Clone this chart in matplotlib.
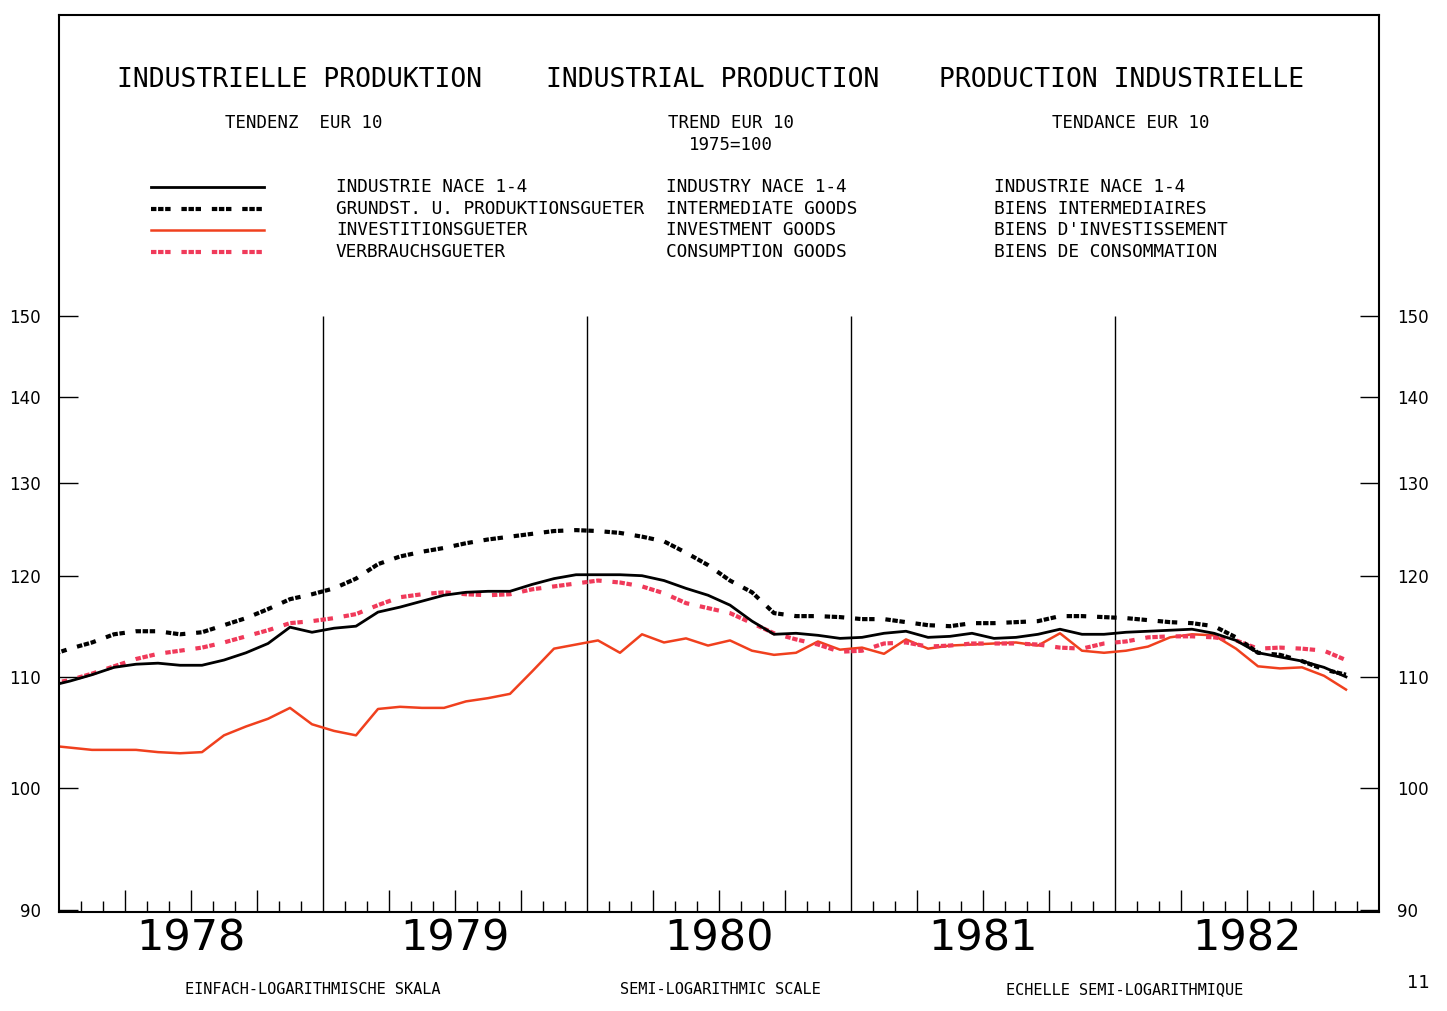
import matplotlib
matplotlib.use('Agg')
import matplotlib.pyplot as plt
from matplotlib.lines import Line2D
import numpy as np

# monthly index, 0 = Jan 1978 (first value is Dec 1977, clipped at the frame)
months = np.arange(-1, 59) + 0.5

industry = [109.1, 109.6, 110.2, 110.9, 111.2, 111.3, 111.1, 111.1, 111.6, 112.3, 113.2, 114.8, 114.3,
            114.7, 114.9, 116.3, 116.8, 117.4, 118.0, 118.3, 118.4, 118.4, 119.1, 119.7, 120.1,
            120.1, 120.1, 120.0, 119.5, 118.7, 118.0, 117.0, 115.4, 114.1, 114.2, 114.0, 113.7,
            113.8, 114.2, 114.4, 113.8, 113.9, 114.2, 113.7, 113.8, 114.1, 114.6, 114.1, 114.1,
            114.3, 114.4, 114.5, 114.6, 114.2, 113.5, 112.3, 111.9, 111.5, 110.9, 110.0]
intermediate = [112.0, 112.7, 113.3, 114.1, 114.4, 114.4, 114.1, 114.3, 115.0, 115.7, 116.6, 117.6, 118.1,
                118.7, 119.7, 121.2, 122.0, 122.5, 122.9, 123.4, 123.8, 124.1, 124.4, 124.7, 124.8,
                124.7, 124.5, 124.1, 123.6, 122.4, 121.1, 119.5, 118.3, 116.2, 115.9, 115.9, 115.8,
                115.6, 115.6, 115.3, 115.0, 114.9, 115.2, 115.2, 115.3, 115.4, 115.9, 115.9, 115.8,
                115.7, 115.5, 115.3, 115.2, 114.9, 113.8, 112.3, 112.1, 111.5, 110.7, 110.2]
investment = [103.7, 103.5, 103.3, 103.3, 103.3, 103.1, 103.0, 103.1, 104.6, 105.4, 106.1, 107.1, 105.6,
              105.0, 104.6, 107.0, 107.2, 107.1, 107.1, 107.7, 108.0, 108.4, 110.5, 112.7, 113.1,
              113.5, 112.3, 114.1, 113.3, 113.7, 113.0, 113.5, 112.5, 112.1, 112.3, 113.4, 112.6,
              112.8, 112.2, 113.6, 112.7, 113.0, 113.1, 113.2, 113.3, 113.0, 114.2, 112.5, 112.3,
              112.5, 112.9, 113.8, 114.1, 114.0, 112.7, 111.0, 110.8, 110.9, 110.1, 108.8]
consumption = [109.3, 109.7, 110.3, 111.0, 111.7, 112.2, 112.5, 112.8, 113.3, 113.9, 114.5, 115.2, 115.4,
               115.7, 116.1, 117.0, 117.8, 118.1, 118.3, 118.1, 118.0, 118.1, 118.6, 118.9, 119.2,
               119.5, 119.3, 118.9, 118.2, 117.2, 116.7, 116.2, 115.2, 114.2, 113.6, 113.1, 112.4,
               112.5, 113.2, 113.3, 112.9, 113.0, 113.2, 113.2, 113.2, 113.1, 112.8, 112.7, 113.2,
               113.4, 113.8, 113.9, 113.9, 113.8, 113.5, 112.7, 112.8, 112.7, 112.5, 111.6]

years = ['1978', '1979', '1980', '1981', '1982']
yticks = [90, 100, 110, 120, 130, 140, 150]

titles = ['INDUSTRIELLE PRODUKTION', 'INDUSTRIAL PRODUCTION', 'PRODUCTION INDUSTRIELLE']
legend_de = ['INDUSTRIE NACE 1-4', 'GRUNDST. U. PRODUKTIONSGUETER', 'INVESTITIONSGUETER', 'VERBRAUCHSGUETER']
legend_en = ['INDUSTRY NACE 1-4', 'INTERMEDIATE GOODS', 'INVESTMENT GOODS', 'CONSUMPTION GOODS']
legend_fr = ['INDUSTRIE NACE 1-4', 'BIENS INTERMEDIAIRES', "BIENS D'INVESTISSEMENT", 'BIENS DE CONSOMMATION']

RED = '#f0401e'
PINK = '#f03a5a'
dotted = (0, (1.3, 0.4, 1.3, 0.4, 1.3, 2.6))

W, H = 1447, 1011
fig = plt.figure(figsize=(W / 100, H / 100), dpi=100)
ax = fig.add_axes([59 / W, (H - 912) / H, 1320 / W, 897 / H])
ax.set_yscale('log')
ax.set_ylim(89.85, 194.4)
ax.set_xlim(0, 60)

# year separators
ax.vlines([12, 24, 36, 48], 89.85, 150, color='black', lw=1.0)

ax.plot(months, investment, color=RED, lw=1.8)
ax.plot(months, consumption, color=PINK, lw=3.0, linestyle=dotted)
ax.plot(months, intermediate, color='black', lw=3.0, linestyle=dotted)
ax.plot(months, industry, color='black', lw=2.0)

for s in ax.spines.values():
    s.set_linewidth(1.5)

ax.yaxis.set_major_locator(matplotlib.ticker.FixedLocator(yticks))
ax.yaxis.set_minor_locator(matplotlib.ticker.NullLocator())
ax.set_yticklabels([str(v) for v in yticks])
ax.tick_params(axis='y', which='major', direction='in', length=14, width=1,
               left=True, right=True, labelleft=True, labelright=True, labelsize=12)
ax.tick_params(axis='y', which='major', pad=13)

major_x = [m for m in range(1, 60) if m % 3 == 0 and m % 12 != 0]
minor_x = [m for m in range(1, 60) if m % 3 != 0]
ax.set_xticks(major_x)
ax.set_xticks(minor_x, minor=True)
ax.set_xticklabels([])
ax.tick_params(axis='x', which='major', direction='in', length=16, width=1)
ax.tick_params(axis='x', which='minor', direction='in', length=8, width=1)

for k, yr in enumerate(years):
    ax.text(12 * k + 6, -0.029, yr, transform=ax.get_xaxis_transform(),
            ha='center', va='center', fontsize=31, family='DejaVu Sans')

mono = 'DejaVu Sans Mono'

def fx(px):
    return px / W

def fy(py):
    return 1 - py / H

for t, x in zip(titles, [300, 713, 1122]):
    fig.text(fx(x), fy(80), t, ha='center', va='center', fontsize=19, family=mono)

fig.text(fx(225), fy(123), 'TENDENZ  EUR 10', ha='left', va='center', fontsize=12.5, family=mono)
fig.text(fx(731), fy(123), 'TREND EUR 10', ha='center', va='center', fontsize=12.5, family=mono)
fig.text(fx(731), fy(145), '1975=100', ha='center', va='center', fontsize=12.5, family=mono)
fig.text(fx(1131), fy(123), 'TENDANCE EUR 10', ha='center', va='center', fontsize=12.5, family=mono)

legend_styles = [('black', 2.0, '-'), ('black', 3.0, dotted), (RED, 1.8, '-'), (PINK, 3.0, dotted)]
for k, (c, lw, ls) in enumerate(legend_styles):
    yy = fy(187 + 21.5 * k)
    fig.add_artist(Line2D([fx(151), fx(264)], [yy, yy], color=c, lw=lw, linestyle=ls))
    fig.text(fx(336), yy, legend_de[k], ha='left', va='center', fontsize=12.8, family=mono)
    fig.text(fx(666), yy, legend_en[k], ha='left', va='center', fontsize=12.8, family=mono)
    fig.text(fx(994), yy, legend_fr[k], ha='left', va='center', fontsize=12.8, family=mono)

for t, x in zip(['EINFACH-LOGARITHMISCHE SKALA', 'SEMI-LOGARITHMIC SCALE', 'ECHELLE SEMI-LOGARITHMIQUE'],
                [313, 720, 1125]):
    fig.text(fx(x), fy(990), t, ha='center', va='center', fontsize=11, family=mono)

fig.text(fx(1418), fy(983), '11', ha='center', va='center', fontsize=13, family='DejaVu Sans')

fig.savefig('out.png', dpi=100, facecolor='white')
